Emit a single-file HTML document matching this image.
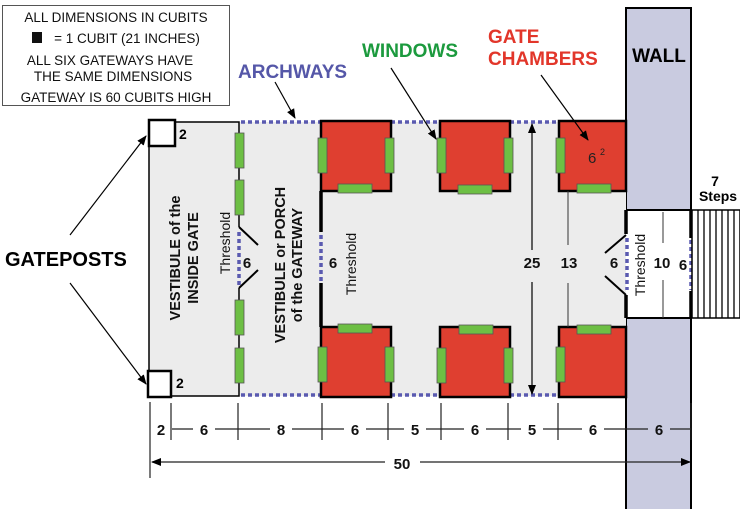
<!DOCTYPE html>
<html><head><meta charset="utf-8"><style>
html,body{margin:0;padding:0;background:#fff;}
svg{display:block;font-family:"Liberation Sans",Arial,sans-serif;}
</style></head><body>
<svg width="740" height="509" viewBox="0 0 740 509" xmlns="http://www.w3.org/2000/svg">
<defs>
<marker id="ah" markerWidth="10" markerHeight="10" refX="9" refY="5" orient="auto" markerUnits="userSpaceOnUse"><path d="M0,1 L10,5 L0,9 z" fill="#000"/></marker>
</defs>
<!-- legend -->
<rect x="2.5" y="5.5" width="227" height="100" fill="#fff" stroke="#555" stroke-width="1"/>
<g font-size="13.5" fill="#111" text-anchor="middle">
<text x="116" y="22">ALL DIMENSIONS IN CUBITS</text>
<rect x="32" y="32" width="10" height="11" fill="#111"/>
<text x="127" y="43">= 1 CUBIT (21 INCHES)</text>
<text x="110" y="65">ALL SIX GATEWAYS HAVE</text>
<text x="113" y="81">THE SAME DIMENSIONS</text>
<text x="116" y="102">GATEWAY IS 60 CUBITS HIGH</text>
</g>
<!-- wall -->
<rect x="626" y="8" width="65" height="202" fill="#c9cbe0" stroke="#000" stroke-width="2"/>
<rect x="626" y="318" width="65" height="195" fill="#c9cbe0" stroke="#000" stroke-width="2"/>
<text x="659" y="62" font-size="19" font-weight="bold" text-anchor="middle">WALL</text>
<!-- gray area -->
<rect x="149" y="122" width="477" height="274" fill="#ececec"/>
<path d="M149,146 V396 M176,122 H239 V227 M239,288 V396 H170" fill="none" stroke="#000" stroke-width="1.5"/>
<!-- dotted archways -->
<g stroke="#5a5ab0" stroke-width="3.5" stroke-dasharray="4,3" fill="none">
<path d="M241,122 H320 M391,122 H440 M510,122 H559"/>
<path d="M241,395 H320 M391,395 H440 M510,395 H559"/>
<path d="M321,235 V283 M239,232 V286 M627,238 V290 M691,240 V290"/>
</g>
<path d="M239,227 L258,245 M239,288 L258,270" stroke="#000" stroke-width="2"/>
<path d="M321,191 V232 M321,283 V327" stroke="#000" stroke-width="3.5"/>
<!-- posts -->
<rect x="149" y="120" width="26" height="26" fill="#fff" stroke="#000" stroke-width="2.5"/>
<rect x="148" y="371" width="23" height="26" fill="#fff" stroke="#000" stroke-width="2.5"/>
<text x="179" y="139" font-size="14" font-weight="bold">2</text>
<text x="176" y="388" font-size="14" font-weight="bold">2</text>
<!-- chambers -->
<g fill="#df3f30" stroke="#000" stroke-width="2.5">
<rect x="321" y="121" width="70" height="70"/>
<rect x="440" y="121" width="70" height="70"/>
<rect x="559" y="121" width="67" height="70"/>
<rect x="321" y="327" width="70" height="70"/>
<rect x="440" y="327" width="70" height="70"/>
<rect x="559" y="327" width="67" height="70"/>
</g>
<!-- windows -->
<g fill="#6dbf44" stroke="#555" stroke-width="0.8">
<rect x="235" y="133" width="9" height="35"/><rect x="235" y="180" width="9" height="35"/>
<rect x="235" y="300" width="9" height="35"/><rect x="235" y="348" width="9" height="35"/>
<rect x="318" y="138" width="9" height="35"/><rect x="385" y="138" width="9" height="35"/><rect x="338" y="184" width="34" height="9"/>
<rect x="437" y="138" width="9" height="35"/><rect x="504" y="138" width="9" height="35"/><rect x="458" y="185" width="34" height="9"/>
<rect x="556" y="138" width="9" height="35"/><rect x="577" y="184" width="34" height="9"/>
<rect x="338" y="324" width="34" height="9"/><rect x="318" y="347" width="9" height="35"/><rect x="385" y="347" width="9" height="35"/>
<rect x="459" y="325" width="34" height="9"/><rect x="437" y="348" width="9" height="35"/><rect x="504" y="348" width="9" height="35"/>
<rect x="577" y="325" width="34" height="9"/><rect x="556" y="347" width="9" height="35"/>
</g>
<text x="588" y="163" font-size="15" fill="#222">6</text>
<text x="600" y="155" font-size="9" fill="#222">2</text>
<!-- right threshold -->
<path d="M626,210 V234 M626,295 V318 M691,210 V238 M691,291 V318" stroke="#000" stroke-width="3.5"/>
<path d="M626,235 L605,253 M605,276 L626,295" stroke="#000" stroke-width="2"/>
<path d="M663,212 V243 M663,280 V318" stroke="#333" stroke-width="1"/>
<rect x="692" y="210" width="48" height="108" fill="#fff" stroke="#000" stroke-width="1.5"/>
<g stroke="#000" stroke-width="1.3">
<path d="M698,210V318M704,210V318M710,210V318M716,210V318M722,210V318M728,210V318M734,210V318"/>
</g>
<text x="715" y="186" font-size="14" font-weight="bold" text-anchor="middle">7</text>
<text x="718" y="201" font-size="14" font-weight="bold" text-anchor="middle">Steps</text>
<!-- labels in gateway -->
<g font-size="15" font-weight="bold" text-anchor="middle" fill="#111">
<text x="247" y="268">6</text>
<text x="333" y="268">6</text>
<text x="532" y="268">25</text>
<text x="569" y="268">13</text>
<text x="614" y="268">6</text>
<text x="662" y="268">10</text>
<text x="683" y="270">6</text>
</g>
<g font-size="14" fill="#111" text-anchor="middle">
<text transform="translate(230,243) rotate(-90)">Threshold</text>
<text transform="translate(356,264) rotate(-90)">Threshold</text>
<text transform="translate(645,265) rotate(-90)">Threshold</text>
</g>
<g font-size="14.5" font-weight="bold" fill="#111" text-anchor="middle">
<text transform="translate(180,258) rotate(-90)">VESTIBULE of the</text>
<text transform="translate(198,258) rotate(-90)">INSIDE GATE</text>
<text transform="translate(285,265) rotate(-90)">VESTIBULE or PORCH</text>
<text transform="translate(302,265) rotate(-90)">of the GATEWAY</text>
</g>
<!-- 25 and 13 lines -->
<path d="M532,250 V124" stroke="#000" stroke-width="1.2" marker-end="url(#ah)"/>
<path d="M532,282 V394" stroke="#000" stroke-width="1.2" marker-end="url(#ah)"/>
<path d="M568,191 V245 M568,283 V327" stroke="#333" stroke-width="1"/>
<!-- callouts -->
<text x="5" y="266" font-size="20" font-weight="bold">GATEPOSTS</text>
<path d="M70,235 L146,136" stroke="#000" stroke-width="1.2" marker-end="url(#ah)"/>
<path d="M70,283 L146,384" stroke="#000" stroke-width="1.2" marker-end="url(#ah)"/>
<text x="238" y="78" font-size="19" font-weight="bold" fill="#5557a8">ARCHWAYS</text>
<path d="M275,82 L295,118" stroke="#000" stroke-width="1.2" marker-end="url(#ah)"/>
<text x="362" y="57" font-size="19" font-weight="bold" fill="#1c9a3e">WINDOWS</text>
<path d="M391,68 L436,139" stroke="#000" stroke-width="1.2" marker-end="url(#ah)"/>
<text x="488" y="43" font-size="19" font-weight="bold" fill="#e2362a">GATE</text>
<text x="488" y="65" font-size="19" font-weight="bold" fill="#e2362a">CHAMBERS</text>
<path d="M541,75 L588,140" stroke="#000" stroke-width="1.2" marker-end="url(#ah)"/>
<!-- dimensions -->
<g stroke="#222" stroke-width="1.2" fill="none">
<path d="M150,402 V478 M171,403 V440 M238,403 V440 M322,403 V440 M388,403 V440 M441,403 V440 M508,403 V440 M558,403 V440 M691,403 V440"/>
<path d="M172,429 H193 M215,429 H270 M292,429 H344 M366,429 H404 M426,429 H464 M486,429 H521 M543,429 H582 M604,429 H648 M670,429 H691"/>
</g>
<g font-size="15" font-weight="bold" text-anchor="middle" fill="#111">
<text x="161" y="435">2</text><text x="204" y="435">6</text><text x="281" y="435">8</text>
<text x="355" y="435">6</text><text x="415" y="435">5</text><text x="475" y="435">6</text>
<text x="532" y="435">5</text><text x="593" y="435">6</text><text x="659" y="435">6</text>
<text x="402" y="469">50</text>
</g>
<path d="M385,462 H152" stroke="#222" stroke-width="1.2" marker-end="url(#ah)"/>
<path d="M420,462 H690" stroke="#222" stroke-width="1.2" marker-end="url(#ah)"/>
</svg>
</body></html>
